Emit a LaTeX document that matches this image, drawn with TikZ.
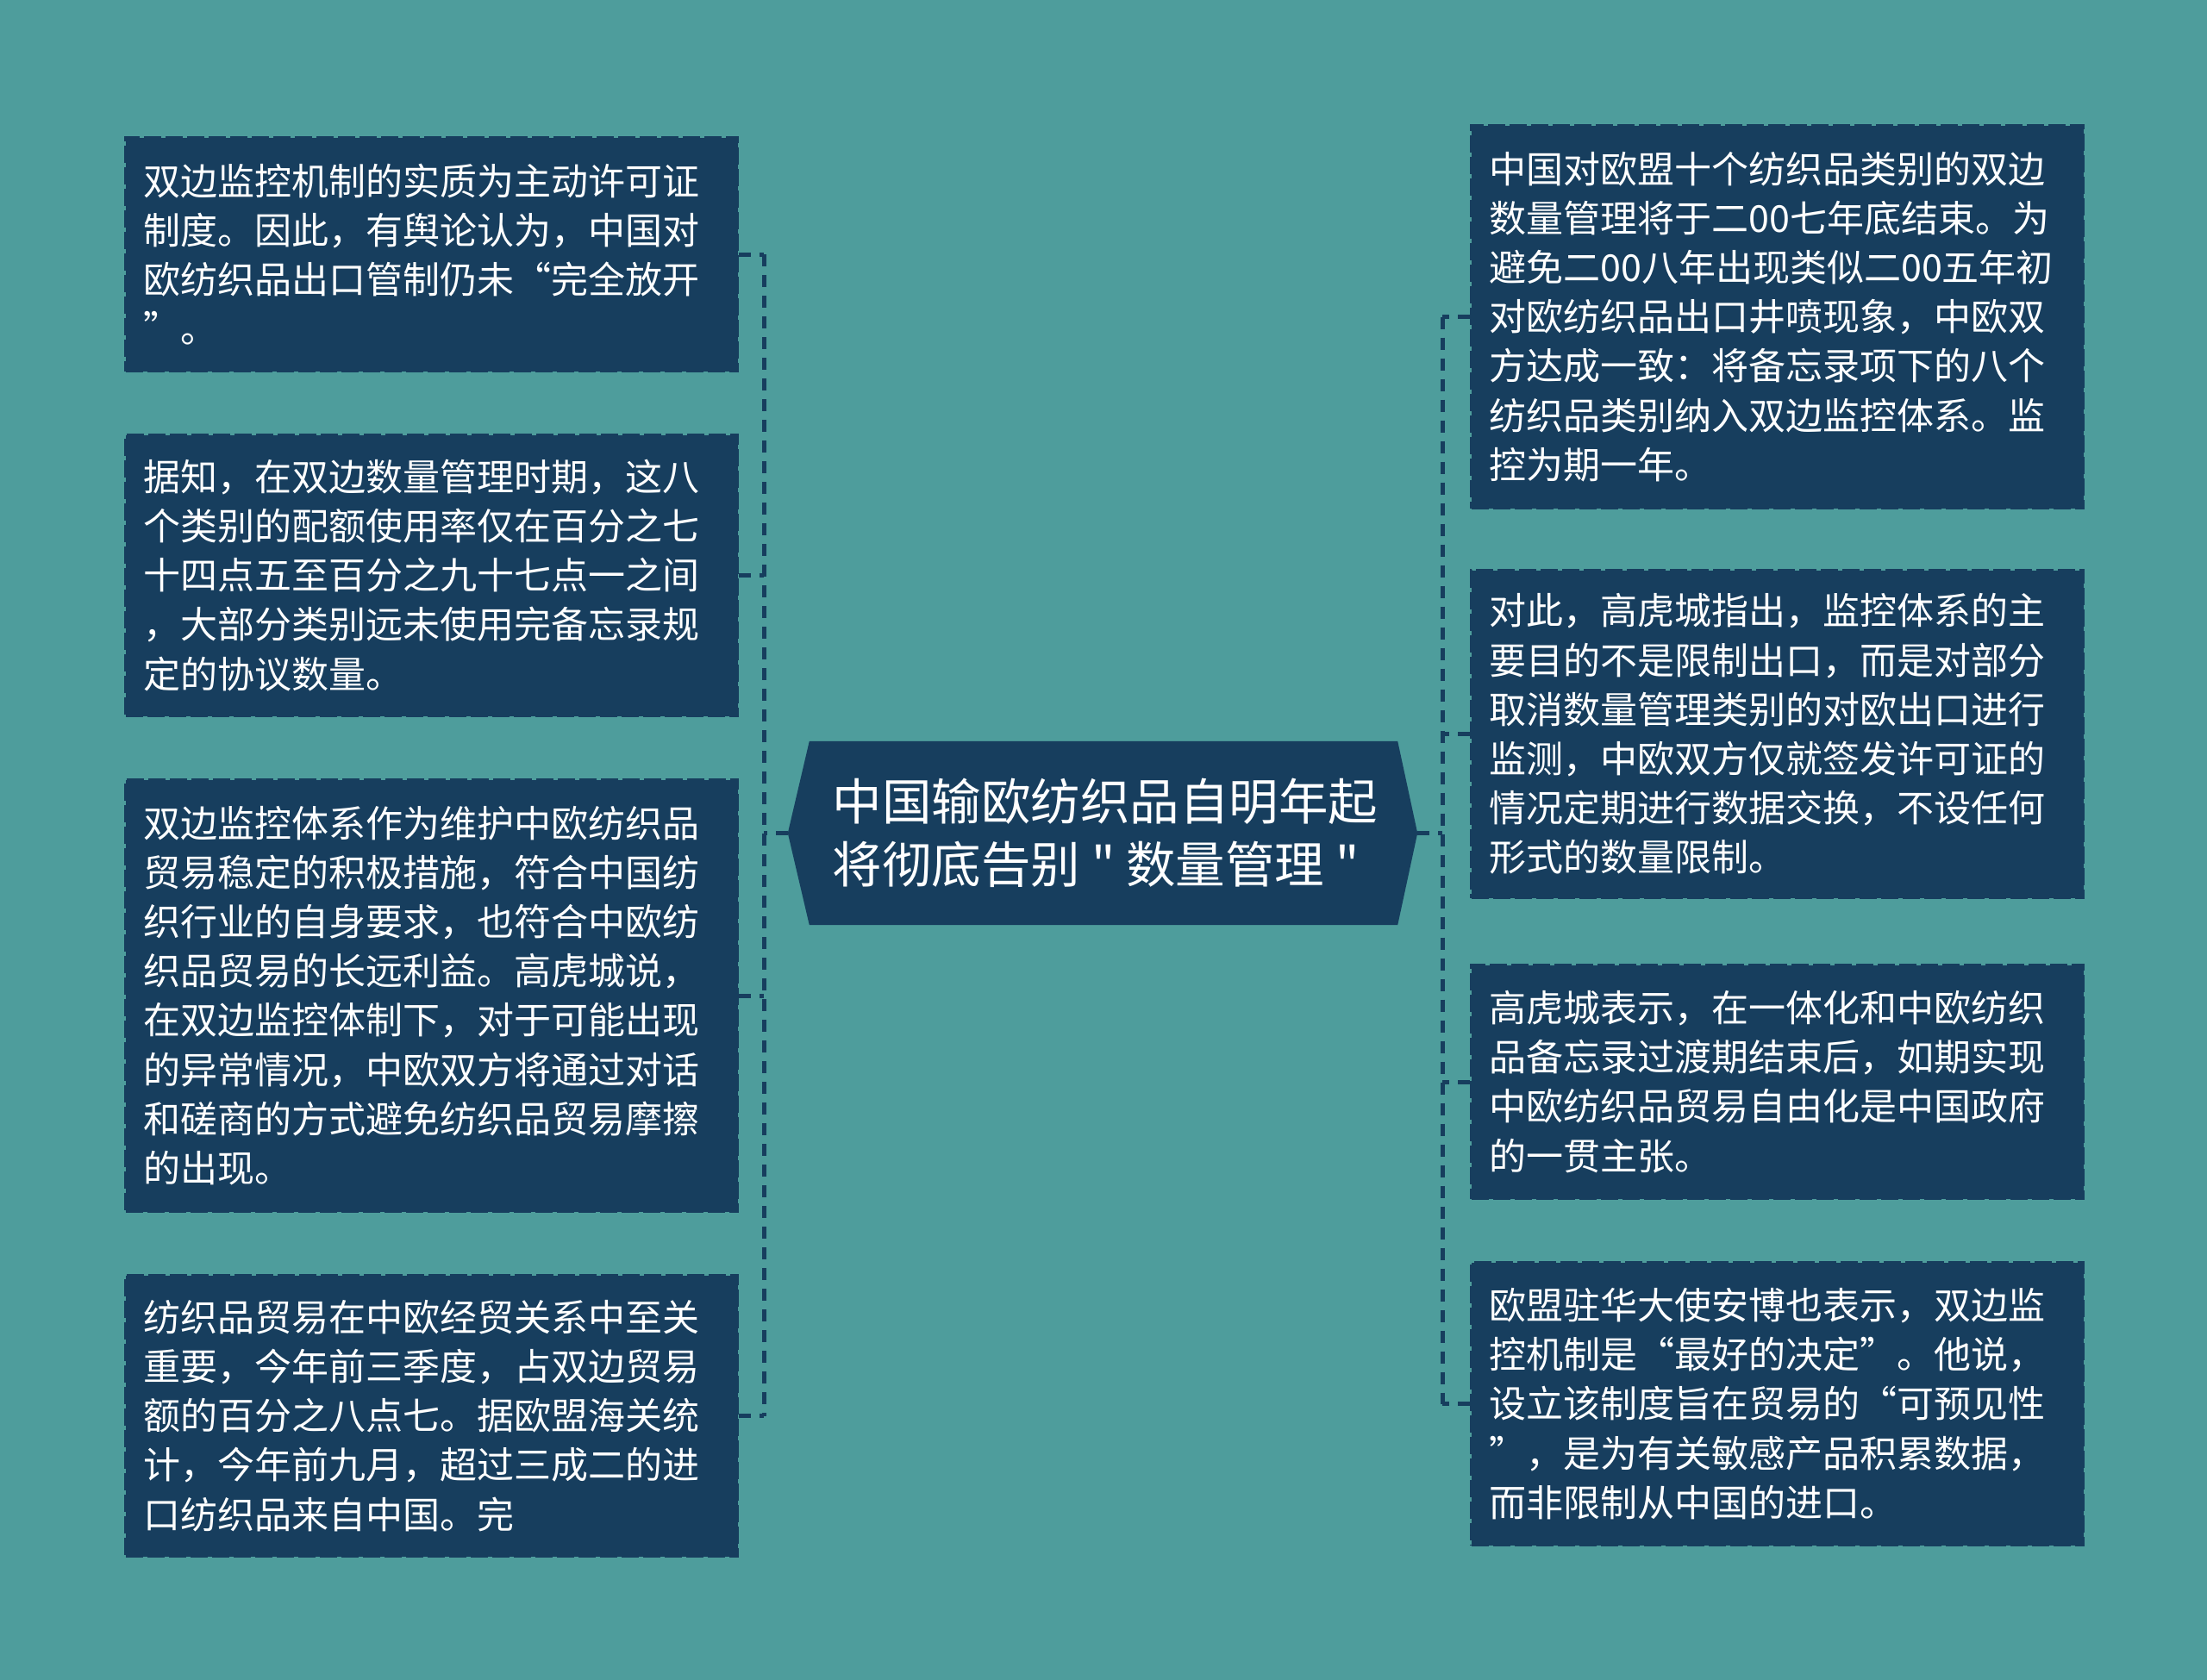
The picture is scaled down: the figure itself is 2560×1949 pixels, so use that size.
\documentclass[tikz,border=0pt]{standalone}
\usepackage{fontspec}
\setmainfont{Noto Sans CJK SC}[Ligatures=TeXOff]
\definecolor{bgcol}{HTML}{4E9D9C}
\definecolor{boxcol}{HTML}{173E5E}
\tikzset{
  box/.style={anchor=north west, fill=boxcol, draw=boxcol, line width=3pt,
    dash pattern=on 20pt off 5pt, text=white, align=left, inner xsep=21pt, inner ysep=0pt,
    text width=668pt, minimum width=710pt,
    font=\fontsize{43}{57.15}\selectfont},
  conn/.style={draw=boxcol, line width=5pt, dash pattern=on 14pt off 10pt},
  hub/.style={text=white, align=left, inner sep=0pt, minimum width=730pt, minimum height=213pt,
    font=\fontsize{57.5}{73}\selectfont}
}
\begin{document}
\begin{tikzpicture}[x=1pt,y=-1pt]
\fill[bgcol] (0,0) rectangle (2560,1949);
\useasboundingbox (0,0) rectangle (2560,1949);

% central node
\node[hub] (c) at (1279,966.5) {};
\fill[boxcol] (c.west) -- ([xshift=25pt]c.north west) -- ([xshift=-23pt]c.north east) -- (c.east)
  -- ([xshift=-23pt]c.south east) -- ([xshift=25pt]c.south west) -- cycle;
\node[hub] at ([xshift=3pt]c.center) {中国输欧纺织品自明年起\\将彻底告别 " 数量管理 "};

% left boxes
\node[box, minimum height=271pt] (L1) at (144,158) {双边监控机制的实质为主动许可证\\制度。因此，有舆论认为，中国对\\欧纺织品出口管制仍未“完全放开\\”。};
\node[box, minimum height=326pt] (L2) at (144,503) {据知，在双边数量管理时期，这八\\个类别的配额使用率仅在百分之七\\十四点五至百分之九十七点一之间\\，大部分类别远未使用完备忘录规\\定的协议数量。};
\node[box, minimum height=501pt] (L3) at (144,903) {双边监控体系作为维护中欧纺织品\\贸易稳定的积极措施，符合中国纺\\织行业的自身要求，也符合中欧纺\\织品贸易的长远利益。高虎城说，\\在双边监控体制下，对于可能出现\\的异常情况，中欧双方将通过对话\\和磋商的方式避免纺织品贸易摩擦\\的出现。};
\node[box, minimum height=326pt] (L4) at (144,1478) {纺织品贸易在中欧经贸关系中至关\\重要，今年前三季度，占双边贸易\\额的百分之八点七。据欧盟海关统\\计，今年前九月，超过三成二的进\\口纺织品来自中国。完};

% right boxes
\node[box, minimum height=444pt] (R1) at (1705,144) {中国对欧盟十个纺织品类别的双边\\数量管理将于二00七年底结束。为\\避免二00八年出现类似二00五年初\\对欧纺织品出口井喷现象，中欧双\\方达成一致：将备忘录项下的八个\\纺织品类别纳入双边监控体系。监\\控为期一年。};
\node[box, minimum height=380pt] (R2) at (1705,660) {对此，高虎城指出，监控体系的主\\要目的不是限制出口，而是对部分\\取消数量管理类别的对欧出口进行\\监测，中欧双方仅就签发许可证的\\情况定期进行数据交换，不设任何\\形式的数量限制。};
\node[box, minimum height=271pt] (R3) at (1705,1118) {高虎城表示，在一体化和中欧纺织\\品备忘录过渡期结束后，如期实现\\中欧纺织品贸易自由化是中国政府\\的一贯主张。};
\node[box, minimum height=328pt] (R4) at (1705,1463) {欧盟驻华大使安博也表示，双边监\\控机制是“最好的决定”。他说，\\设立该制度旨在贸易的“可预见性\\”，是为有关敏感产品积累数据，\\而非限制从中国的进口。};

% connectors
\coordinate (lx) at (886,0);
\coordinate (rx) at (1673,0);
\draw[conn] (L1.east -| lx) -- (L4.east -| lx);
\draw[conn] (R1.west -| rx) -- (R4.west -| rx);
\draw[conn] (c.west) -- (c.west -| lx);
\draw[conn] (c.east) -- (c.east -| rx);
\foreach \n in {L1,L2,L3,L4} \draw[conn] (\n.east) -- (\n.east -| lx);
\foreach \n in {R1,R2,R3,R4} \draw[conn] (\n.west) -- (\n.west -| rx);
\end{tikzpicture}
\end{document}
